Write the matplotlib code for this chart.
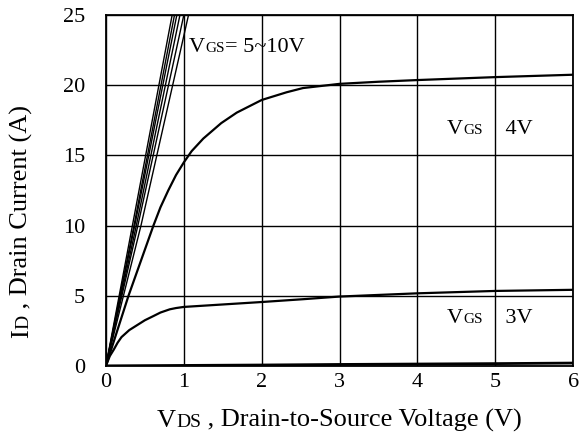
import numpy as np
import matplotlib
matplotlib.use("Agg")
import matplotlib.pyplot as plt
from matplotlib.transforms import IdentityTransform

plt.rcParams['font.family'] = ['Liberation Serif', 'DejaVu Serif']

# VGS = 5..10 V: nearly linear (ohmic) traces, read as (VDS, ID) points
steep_vds = [
    [0.0, 0.34, 0.85],
    [0.0, 0.36, 0.88],
    [0.0, 0.37, 0.91],
    [0.0, 0.39, 0.95],
    [0.0, 0.41, 1.00],
    [0.0, 0.45, 1.06],
]
steep_id = [0, 10, 25]

# VGS = 4 V
vds_4v = [0, 0.29, 0.61, 0.7, 0.8, 0.9, 1.0, 1.1, 1.25, 1.48, 1.68, 2.0, 2.32, 2.53, 3.0, 3.5, 4.0, 5.0, 6.0]
id_4v = [0, 5.0, 10.0, 11.3, 12.5, 13.6, 14.5, 15.3, 16.2, 17.3, 18.05, 18.95, 19.5, 19.8, 20.1, 20.25, 20.37, 20.58, 20.75]

# VGS = 3 V
vds_3v = [0, 0.05, 0.1, 0.15, 0.2, 0.3, 0.4, 0.5, 0.61, 0.7, 0.82, 0.9, 1.0, 2.0, 2.53, 3.0, 4.0, 5.0, 6.0]
id_3v = [0, 0.7, 1.15, 1.65, 2.05, 2.55, 2.9, 3.25, 3.55, 3.8, 4.03, 4.12, 4.2, 4.55, 4.75, 4.94, 5.17, 5.34, 5.42]

# lowest gate drive, barely conducting
vds_low = [0, 1, 2, 3, 4, 5, 6]
id_low = [0, 0.03, 0.06, 0.1, 0.13, 0.16, 0.2]

x_ticks = [0, 1, 2, 3, 4, 5, 6]
y_ticks = [0, 5, 10, 15, 20, 25]

fig = plt.figure(figsize=(5.82, 4.44), dpi=100)
ax = fig.add_axes([0.182, 0.176, 0.803, 0.790])

for xs in steep_vds:
    ax.plot(xs, steep_id, color='black', lw=1.0, solid_capstyle='butt')
ax.plot(vds_4v, id_4v, color='black', lw=1.6, solid_joinstyle='round')
ax.plot(vds_3v, id_3v, color='black', lw=1.6, solid_joinstyle='round')
ax.plot(vds_low, id_low, color='black', lw=2.0)

ax.set_xlim(0, 6)
ax.set_ylim(0, 25)
ax.set_xticks(x_ticks)
ax.set_yticks(y_ticks)
ax.grid(True, color='black', lw=1.0)
ax.set_axisbelow(True)
ax.tick_params(length=0, labelsize=16)
ax.tick_params(axis='y', pad=15)
ax.tick_params(axis='x', pad=5)
for s in ax.spines.values():
    s.set_linewidth(1.3)

fig.canvas.draw()
renderer = fig.canvas.get_renderer()


def place_pieces(x, y, pieces, rotation=0):
    """Write text pieces of mixed size one after another, starting at pixel (x, y)."""
    px, py = x, fig.bbox.height - y
    for s, size in pieces:
        t = fig.text(px, py, s, fontsize=size, rotation=rotation,
                     ha='left', va='baseline', rotation_mode='anchor',
                     transform=IdentityTransform())
        w = t.get_window_extent(renderer)
        if rotation == 90:
            py += w.height
        else:
            px += w.width


# axis labels with small-cap subscripts
place_pieces(157, 427, [("V", 19), ("DS", 14), (" , Drain-to-Source Voltage (V)", 19)])
place_pieces(28, 338, [("I", 19), ("D", 14), (" , Drain Current (A)", 19)], rotation=90)

# curve annotations
place_pieces(189, 52, [("V", 16), ("GS", 11), ("= 5~10V", 16)])
place_pieces(447, 134, [("V", 16), ("GS", 11), ("    4V", 16)])
place_pieces(447, 323, [("V", 16), ("GS", 11), ("    3V", 16)])

fig.savefig("out.png", dpi=100)
